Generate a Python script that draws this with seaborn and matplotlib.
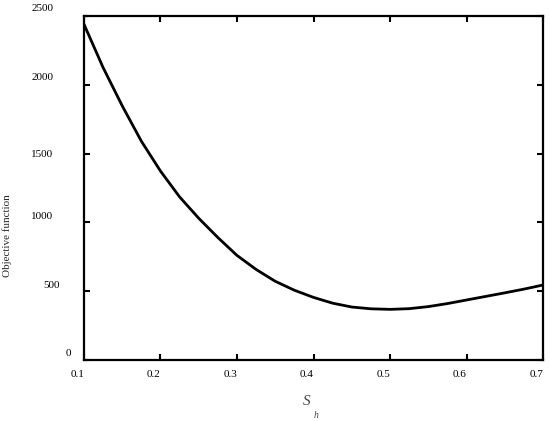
import matplotlib
matplotlib.use("Agg")
import matplotlib.pyplot as plt
import matplotlib.transforms as mtransforms
import pandas as pd
import seaborn as sns

# values
sh = [0.100, 0.125, 0.150, 0.175, 0.200, 0.225, 0.250, 0.275, 0.300,
      0.325, 0.350, 0.375, 0.400, 0.425, 0.450, 0.475, 0.500, 0.525,
      0.550, 0.575, 0.600, 0.625, 0.650, 0.675, 0.700]
objective = [2440, 2125, 1847, 1590, 1373, 1185, 1030, 890, 760,
             658, 572, 507, 455, 413, 385, 372, 368, 373,
             388, 410, 436, 462, 488, 515, 545]

y_ticks = [0, 500, 1000, 1500, 2000, 2500]
y_tick_labels = ['0', '500', '1000', '1500', '2000', '2500']
x_ticks = [0.1, 0.2, 0.3, 0.4, 0.5, 0.6, 0.7]
x_tick_labels = ['0.1', '0.2', '0.3', '0.4', '0.5', '0.6', '0.7']

df = pd.DataFrame({'sh': sh, 'objective': objective})

sns.set_style("white")
plt.rcParams['font.family'] = ['Liberation Serif', 'DejaVu Serif']

fig = plt.figure(figsize=(5.5, 4.21), dpi=100)
ax = fig.add_axes([0.1527, 0.1449, 0.8346, 0.8171])

sns.lineplot(data=df, x='sh', y='objective', ax=ax, color='black',
             linewidth=2.0, solid_joinstyle='round')

ax.set_xlim(0.1, 0.7)
ax.set_ylim(0, 2500)
ax.set_xticks(x_ticks)
ax.set_xticklabels(x_tick_labels)
ax.set_yticks(y_ticks)
ax.set_yticklabels(y_tick_labels)

for s in ax.spines.values():
    s.set_visible(True)
    s.set_color('black')
    s.set_linewidth(1.6)

ax.tick_params(axis='both', direction='in', length=4, width=1.5,
               left=True, bottom=True, top=True, right=True,
               labelsize=8, colors='black')
ax.tick_params(axis='x', pad=7)
ax.tick_params(axis='y', pad=22)

# the original tick labels sit slightly off their ticks
for lab in ax.get_xticklabels():
    lab.set_transform(lab.get_transform() +
                      mtransforms.ScaledTranslation(-6.5 / 100, 0, fig.dpi_scale_trans))
y_shift = {'0': (18, 7), '500': (6, 7), '1000': (0, 7), '1500': (0, 0),
           '2000': (0, 8), '2500': (0, 8)}
for lab in ax.get_yticklabels():
    dx, dy = y_shift.get(lab.get_text(), (0, 0))
    lab.set_transform(lab.get_transform() +
                      mtransforms.ScaledTranslation(dx / 100, dy / 100, fig.dpi_scale_trans))

ax.set_xlabel('')
ax.set_ylabel('Objective function', fontsize=8)
ax.yaxis.set_label_coords(-0.157, 0.363)

ax.text(0.484, -0.122, 'S', transform=ax.transAxes, fontsize=11,
        style='italic', color='#444444', ha='center', va='center')
ax.text(0.505, -0.16, 'h', transform=ax.transAxes, fontsize=7,
        style='italic', color='#444444', ha='center', va='center')

fig.savefig('out.png', dpi=100)
